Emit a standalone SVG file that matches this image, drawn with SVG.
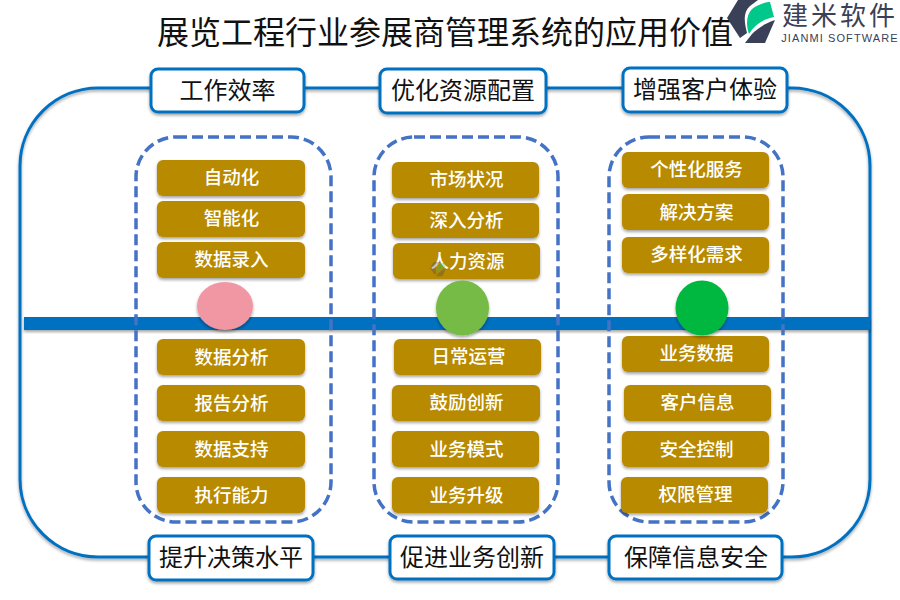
<svg xmlns="http://www.w3.org/2000/svg" width="900" height="600" viewBox="0 0 900 600">
<style>
text{font-family:"Noto Sans CJK SC","Liberation Sans",sans-serif;text-anchor:middle}
.head rect{fill:#fff;stroke:#0070C0;stroke-width:3;filter:url(#sh)}
.head text{font-size:24px;fill:#111}
.pill rect{fill:#B88A00;filter:url(#sh)}
.pill text{font-size:18.500px;font-weight:500;fill:#fff}
.dash{fill:none;stroke:#4472C4;stroke-width:3.5;stroke-dasharray:11 5}
</style>
<defs>
<filter id="sh" x="-10%" y="-20%" width="120%" height="145%"><feDropShadow dx="0" dy="2" stdDeviation="1.5" flood-color="#000" flood-opacity="0.35"/></filter>
<g id="mark">
<path d="M738 0H758L750 6C742 13 745 24 747 33L740 38L727 18Z" fill="#3A4058"/>
<path d="M752 9C760 3 768 2 770 2L774 17C764 19 755 24 749 34C746 26 746 15 752 9Z" fill="#00C78A"/>
<path d="M775 20L765 43H745L752 34C758 28 766 23 775 20Z" fill="#3A4058"/>
</g>
</defs>
<rect width="900" height="600" fill="#fff"/>
<g id="title"><text x="445" y="44" font-size="32" fill="#111">展览工程行业参展商管理系统的应用价值</text></g>
<g id="logo">
<use href="#mark"/>
<text x="840" y="25" font-size="26" fill="#3A4058" style="letter-spacing:3px">建米软件</text>
<text x="840" y="42" font-size="11" fill="#3A4058" style="font-family:'Liberation Sans',sans-serif;letter-spacing:1.1px">JIANMI SOFTWARE</text>
</g>
<g id="connectors">
<rect x="20" y="88" width="850" height="469" rx="78" ry="78" fill="none" stroke="#0070C0" stroke-width="3" filter="url(#sh)"/>
<rect x="24" y="317" width="846" height="13" fill="#0070C0" filter="url(#sh)"/>
</g>
<g id="groups">
<rect class="dash" x="136" y="137" width="195" height="385" rx="40"/>
<rect class="dash" x="374" y="137" width="184" height="385" rx="40"/>
<rect class="dash" x="609" y="137" width="174" height="385" rx="40"/>
</g>
<g id="h1" class="head"><rect x="151" y="69" width="153" height="43" rx="7"/><text x="227.500" y="99">工作效率</text></g>
<g id="h2" class="head"><rect x="380" y="69" width="166" height="44" rx="7"/><text x="463" y="99">优化资源配置</text></g>
<g id="h3" class="head"><rect x="623" y="68" width="164" height="44" rx="7"/><text x="705" y="98">增强客户体验</text></g>
<g id="h4" class="head"><rect x="149" y="536" width="164" height="44" rx="7"/><text x="231" y="566">提升决策水平</text></g>
<g id="h5" class="head"><rect x="390" y="536" width="164" height="43" rx="7"/><text x="472" y="566">促进业务创新</text></g>
<g id="h6" class="head"><rect x="609" y="536" width="173" height="43" rx="7"/><text x="696" y="566">保障信息安全</text></g>
<g id="l1" class="pill"><rect x="157" y="160" width="148" height="36" rx="6"/><text x="231.500" y="184">自动化</text></g>
<g id="l2" class="pill"><rect x="157" y="201" width="148" height="36" rx="6"/><text x="231.500" y="225">智能化</text></g>
<g id="l3" class="pill"><rect x="157" y="242" width="148" height="36" rx="6"/><text x="231.500" y="266">数据录入</text></g>
<g id="l4" class="pill"><rect x="157" y="339" width="148" height="36" rx="6"/><text x="231.500" y="364">数据分析</text></g>
<g id="l5" class="pill"><rect x="157" y="385" width="148" height="36" rx="6"/><text x="231.500" y="410">报告分析</text></g>
<g id="l6" class="pill"><rect x="157" y="431" width="148" height="36" rx="6"/><text x="231.500" y="456">数据支持</text></g>
<g id="l7" class="pill"><rect x="157" y="477" width="148" height="36" rx="6"/><text x="231.500" y="502">执行能力</text></g>
<g id="m1" class="pill"><rect x="392" y="162" width="147" height="36" rx="6"/><text x="466.500" y="186">市场状况</text></g>
<g id="m2" class="pill"><rect x="392" y="203" width="147" height="35" rx="6"/><text x="466.500" y="227">深入分析</text></g>
<g id="m3" class="pill"><rect x="393" y="243" width="147" height="36" rx="6"/><text x="467.500" y="268">人力资源</text></g>
<g id="m4" class="pill"><rect x="394" y="339" width="147" height="36" rx="6"/><text x="468.500" y="363">日常运营</text></g>
<g id="m5" class="pill"><rect x="392" y="385" width="148" height="36" rx="6"/><text x="466.500" y="409">鼓励创新</text></g>
<g id="m6" class="pill"><rect x="392" y="431" width="147" height="36" rx="6"/><text x="466.500" y="456">业务模式</text></g>
<g id="m7" class="pill"><rect x="392" y="477" width="147" height="36" rx="6"/><text x="466.500" y="502">业务升级</text></g>
<g id="r1" class="pill"><rect x="622" y="152" width="147" height="36" rx="6"/><text x="696.500" y="176">个性化服务</text></g>
<g id="r2" class="pill"><rect x="622" y="194" width="147" height="36" rx="6"/><text x="696.500" y="219">解决方案</text></g>
<g id="r3" class="pill"><rect x="622" y="237" width="147" height="36" rx="6"/><text x="696.500" y="261">多样化需求</text></g>
<g id="r4" class="pill"><rect x="622" y="336" width="147" height="36" rx="6"/><text x="696.500" y="360">业务数据</text></g>
<g id="r5" class="pill"><rect x="624" y="385" width="147" height="36" rx="6"/><text x="697.500" y="409">客户信息</text></g>
<g id="r6" class="pill"><rect x="622" y="431" width="147" height="36" rx="6"/><text x="696.500" y="456">安全控制</text></g>
<g id="r7" class="pill"><rect x="621" y="477" width="147" height="36" rx="6"/><text x="695.500" y="501">权限管理</text></g>
<g id="watermark" opacity="0.3"><use href="#mark" transform="translate(430 262) scale(0.33) translate(-727 0)"/></g>
<g id="c1"><ellipse cx="225" cy="306" rx="28" ry="24" fill="#F097A3" filter="url(#sh)"/></g>
<g id="c2"><ellipse cx="462.500" cy="308" rx="26.500" ry="27.500" fill="#74BB44" filter="url(#sh)"/></g>
<g id="c3"><ellipse cx="702" cy="308" rx="26.500" ry="27.500" fill="#00B83F" filter="url(#sh)"/></g>
</svg>
